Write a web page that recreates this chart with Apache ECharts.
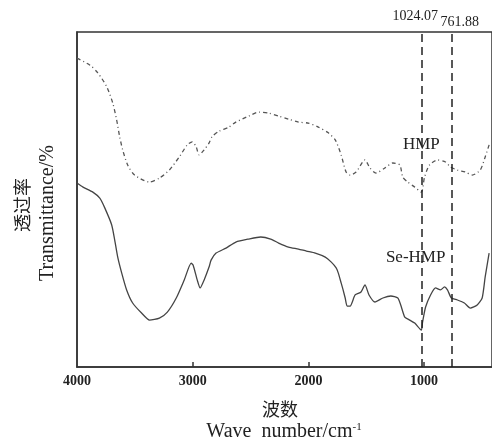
<!DOCTYPE html>
<html>
<head>
<meta charset="utf-8">
<script src="https://cdn.jsdelivr.net/npm/echarts@6/dist/echarts.min.js"></script>
<style>html,body{margin:0;padding:0;background:#fff}#c{width:492px;height:443px}</style>
</head>
<body>
<div id="c"></div>
<script>
// Wavenumber (cm^-1) and transmittance (arbitrary %)
const hmpWave = [4000,3888,3820,3742,3691,3657,3631,3605,3562,3502,3373,3288,3202,3116,3047,3004,2970,2944,2901,2858,2833,2772,2687,2627,2515,2429,2343,2257,2172,2086,2000,1914,1828,1768,1717,1674,1639,1588,1511,1468,1416,1339,1270,1210,1184,1141,1081,1024,996,953,884,815,772,712,644,584,515,472,438];
const hmpT = [92.2,90.1,87.8,83.6,78.8,73.7,68.7,64.8,60.3,57.3,55.2,56.4,58.8,62.7,66.3,67.2,65.7,63.3,64.8,66.9,68.7,70.4,71.6,73.1,74.9,76.1,75.8,74.9,74.0,73.1,72.8,71.6,69.9,67.8,63.3,58.2,57.3,58.2,61.8,59.4,57.9,59.4,60.9,60.3,56.7,55.2,53.7,52.2,56.7,60.3,61.8,61.2,59.7,58.8,58.2,57.3,58.8,62.7,66.3];
const seWave = [4000,3948,3863,3803,3760,3700,3674,3648,3614,3571,3519,3442,3373,3288,3219,3142,3073,3013,2996,2961,2936,2901,2858,2841,2798,2712,2627,2515,2412,2326,2257,2172,2086,2017,1940,1854,1802,1760,1742,1717,1700,1682,1665,1639,1596,1545,1511,1476,1425,1356,1287,1227,1202,1167,1124,1081,1024,1013,987,944,901,858,824,798,764,712,652,601,541,498,472,438];
const seT = [54.9,53.7,52.2,50.4,47.5,42.4,37.9,32.8,28.1,23.0,19.1,16.1,14.0,14.6,16.4,20.6,26.0,31.0,30.4,26.0,23.6,26.0,29.9,31.9,34.0,35.5,37.3,38.2,38.8,38.2,37.0,35.8,35.2,34.6,34.0,32.8,31.3,29.6,28.1,25.1,23.0,20.6,18.2,18.2,21.5,22.4,24.5,21.5,19.4,20.6,21.2,20.6,18.5,14.9,14.0,13.1,11.0,13.4,17.9,21.5,23.6,23.0,23.9,23.0,20.6,20.0,19.1,17.6,18.5,20.6,26.9,34.0];
const peakLines = [1024.07, 761.88];
const peakLabels = ['1024.07', '761.88'];
const xLabelValues = [4000, 3000, 2000, 1000];
const xTickValues = [3000, 2000, 1000];
const seriesNames = ['HMP', 'Se-HMP'];

const zip = (a, b) => a.map((v, i) => [v, b[i]]);
const chart = echarts.init(document.getElementById('c'));
const serif = 'Liberation Serif';
chart.setOption({
  animation: false,
  grid: { left: 77, right: -3, top: 32, bottom: 76, show: true, borderColor: '#333', borderWidth: 1.5 },
  xAxis: {
    type: 'value', inverse: true, min: 413, max: 4000,
    axisLine: { show: true, lineStyle: { color: '#333', width: 1.5 } },
    axisTick: { show: true, inside: true, length: 5, customValues: xTickValues, lineStyle: { color: '#333', width: 1.5 } },
    axisLabel: { customValues: xLabelValues, formatter: v => String(v), color: '#222', fontFamily: 'Liberation Sans Narrow', fontWeight: 'bold', fontSize: 14, margin: 7 },
    splitLine: { show: false }
  },
  yAxis: {
    type: 'value', min: 0, max: 100,
    axisLine: { show: true, lineStyle: { color: '#333', width: 1.5 } },
    axisTick: { show: false }, axisLabel: { show: false }, splitLine: { show: false }
  },
  series: [
    { name: seriesNames[0], type: 'line', data: zip(hmpWave, hmpT), symbol: 'none', smooth: 0.25,
      lineStyle: { color: '#555', width: 1.3, type: [4, 3, 1, 3] } },
    { name: seriesNames[1], type: 'line', data: zip(seWave, seT), symbol: 'none', smooth: 0.2,
      lineStyle: { color: '#444', width: 1.3 },
      markLine: { silent: true, symbol: 'none', label: { show: false },
        lineStyle: { color: '#222', width: 1.5, type: [8, 5] },
        data: peakLines.map(v => ({ xAxis: v })) } }
  ]
});

const p = (x, y) => chart.convertToPixel({ gridIndex: 0 }, [x, y]);
const g = [];
const a = p(peakLines[0], 100), b = p(peakLines[1], 100);
g.push({ type: 'text', x: a[0] - 6, y: 16, style: { text: peakLabels[0], font: '14px ' + serif, fill: '#222', align: 'center', verticalAlign: 'middle' } });
g.push({ type: 'text', x: b[0] + 8, y: 22, style: { text: peakLabels[1], font: '14px ' + serif, fill: '#222', align: 'center', verticalAlign: 'middle' } });
const h = p(1024, 66.4), s = p(1073, 32.8);
g.push({ type: 'text', x: h[0], y: h[1], style: { text: seriesNames[0], font: '17px ' + serif, fill: '#222', align: 'center', verticalAlign: 'middle' } });
g.push({ type: 'text', x: s[0], y: s[1], style: { text: seriesNames[1], font: '17px ' + serif, fill: '#222', align: 'center', verticalAlign: 'middle' } });
g.push({ type: 'text', x: 280, y: 409, style: { text: '波数', font: '18px "Noto Sans CJK SC"', fill: '#222', align: 'center', verticalAlign: 'middle' } });
g.push({ type: 'text', x: 284, y: 432, style: {
  text: 'Wave  number/cm{s|-1}', font: '20px ' + serif, fill: '#222', align: 'center', verticalAlign: 'middle',
  rich: { s: { fontSize: 11, fontFamily: serif, verticalAlign: 'top', padding: [0, 0, 10, 0], fill: '#222' } } } });
g.push({ type: 'text', x: 22, y: 205, rotation: Math.PI / 2, style: { text: '透过率', font: '18px "Noto Sans CJK SC"', fill: '#222', align: 'center', verticalAlign: 'middle' } });
g.push({ type: 'text', x: 48, y: 213, rotation: Math.PI / 2, style: { text: 'Transmittance/%', font: '20px ' + serif, fill: '#222', align: 'center', verticalAlign: 'middle' } });
chart.setOption({ graphic: g });
</script>
</body>
</html>
